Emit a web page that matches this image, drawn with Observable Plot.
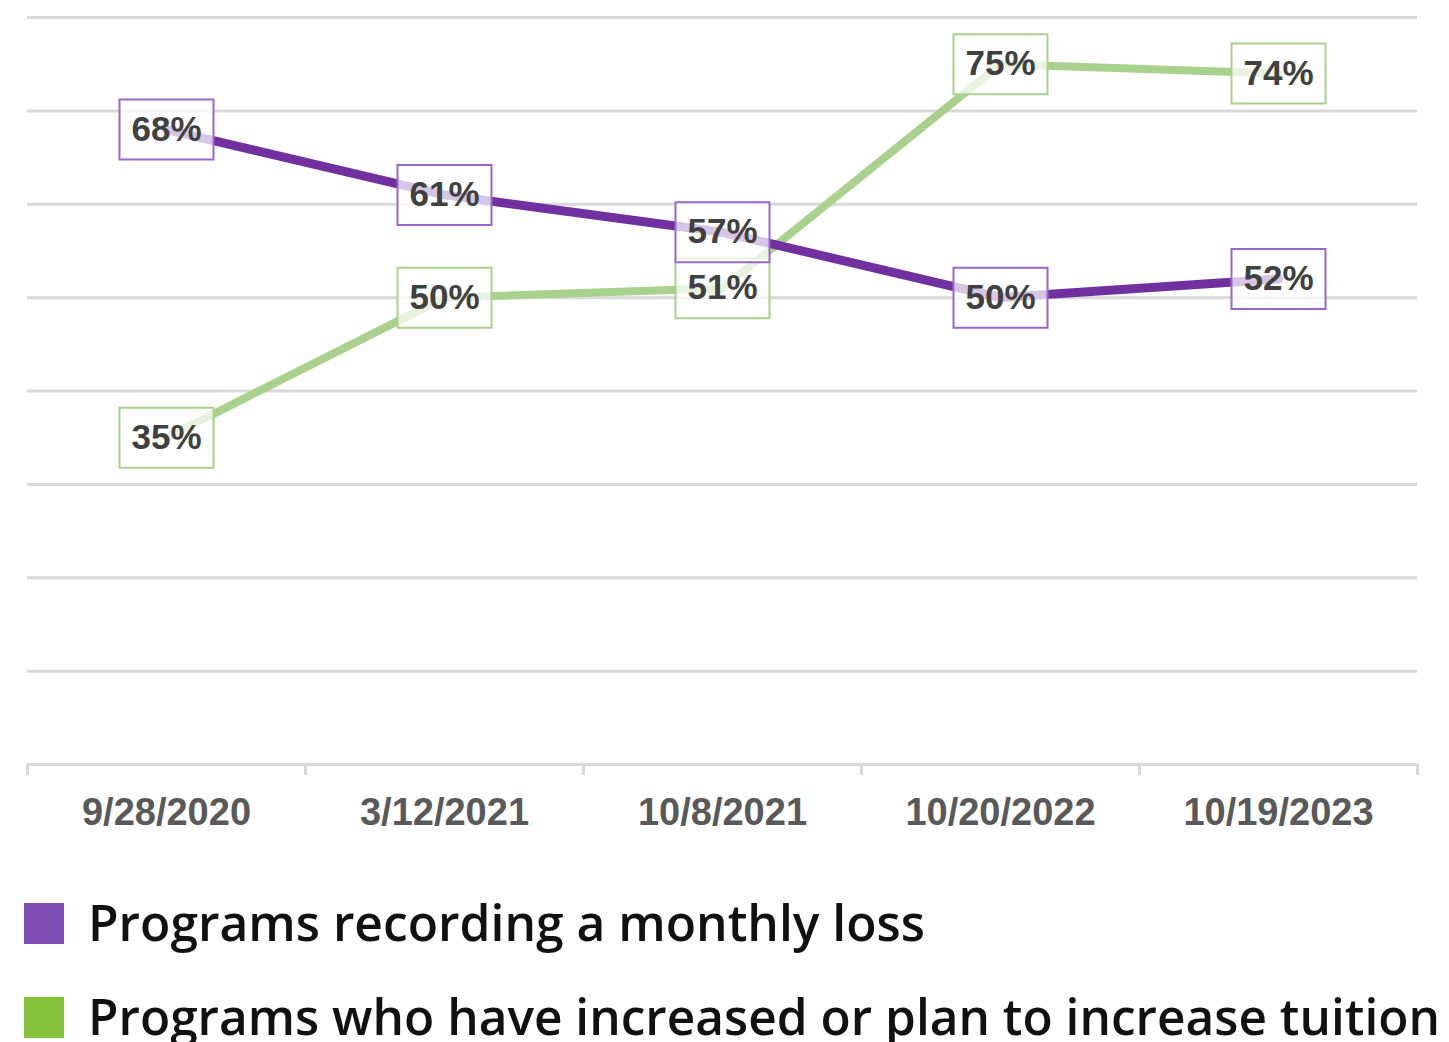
<!DOCTYPE html>
<html>
<head>
<meta charset="utf-8">
<script src="https://cdn.jsdelivr.net/npm/d3@7"></script>
<script src="https://cdn.jsdelivr.net/npm/@observablehq/plot@0.6"></script>
<style>
  html, body { margin: 0; padding: 0; background: #fff; }
  #chart svg { display: block; }
</style>
</head>
<body>
<div id="chart"></div>
<div id="legend"></div>
<script>
const dates = ["9/28/2020", "3/12/2021", "10/8/2021", "10/20/2022", "10/19/2023"];
const lossValues = [68, 61, 57, 50, 52];
const tuitionValues = [35, 50, 51, 75, 74];
const seriesNames = ["Programs recording a monthly loss", "Programs who have increased or plan to increase tuition"];
const gridValues = [10, 20, 30, 40, 50, 60, 70, 80];

const lineColors = ["#7030a0", "#a9d18e"];
const boxColors = ["#9966cc", "#a9d18e"];
const legendColors = ["#8150b6", "#84c23a"];

const loss = dates.map((d, i) => ({xi: i + 0.5, date: d, value: lossValues[i]}));
const tuition = dates.map((d, i) => ({xi: i + 0.5, date: d, value: tuitionValues[i]}));

const boxSymbol = {
  draw(ctx) { ctx.rect(-47, -30, 94, 60); }
};

const chart = Plot.plot({
  width: 1449,
  height: 860,
  marginLeft: 27,
  marginRight: 32,
  marginTop: 17,
  marginBottom: 96,
  style: {fontFamily: "'Liberation Sans', Arial, sans-serif", background: "#fff"},
  x: {domain: [0, 5], axis: null, label: null},
  y: {domain: [0, 80], axis: null, label: null},
  marks: [
    Plot.ruleY(gridValues, {stroke: "#d9d9d9", strokeWidth: 3}),
    Plot.ruleY([0], {stroke: "#d9d9d9", strokeWidth: 3}),
    Plot.axisX({ticks: d3.range(6), tickFormat: () => "", tickSize: 11, stroke: "#d9d9d9", strokeWidth: 3, label: null}),
    Plot.axisX({
      ticks: d3.range(5).map(i => i + 0.5),
      tickFormat: v => dates[Math.floor(v)],
      tickSize: 0,
      tickPadding: 34,
      fontSize: 38,
      fontWeight: "bold",
      fill: "#595959",
      label: null
    }),
    Plot.line(tuition, {x: "xi", y: "value", stroke: lineColors[1], strokeWidth: 8}),
    Plot.line(loss, {x: "xi", y: "value", stroke: lineColors[0], strokeWidth: 9}),
    Plot.dot(tuition, {x: "xi", y: "value", symbol: boxSymbol, r: 1, fill: "#fff", fillOpacity: 0.72, stroke: boxColors[1], strokeWidth: 2}),
    Plot.dot(loss, {x: "xi", y: "value", symbol: boxSymbol, r: 1, fill: "#fff", fillOpacity: 0.72, stroke: boxColors[0], strokeWidth: 2}),
    Plot.text(tuition, {x: "xi", y: "value", text: d => d.value + "%", fontSize: 35, fontWeight: "bold", fill: "#404040"}),
    Plot.text(loss, {x: "xi", y: "value", text: d => d.value + "%", fontSize: 35, fontWeight: "bold", fill: "#404040"})
  ]
});
document.getElementById("chart").appendChild(chart);

// Legend below the chart
const legendWidths = [837, 1352];
const legend = d3.select("#legend").append("svg")
  .attr("width", 1449).attr("height", 182)
  .style("display", "block");
const items = legend.selectAll("g").data(seriesNames).join("g")
  .attr("transform", (d, i) => `translate(0, ${43 + i * 94})`);
items.append("rect")
  .attr("x", 24).attr("y", 0).attr("width", 40).attr("height", 41)
  .attr("fill", (d, i) => legendColors[i]);
items.append("text")
  .attr("x", 88).attr("y", 38)
  .attr("font-family", "'Open Sans', 'Noto Sans', sans-serif")
  .attr("font-weight", 600)
  .attr("font-size", 50)
  .attr("fill", "#111")
  .attr("textLength", (d, i) => legendWidths[i])
  .attr("lengthAdjust", "spacingAndGlyphs")
  .text(d => d);
</script>
</body>
</html>
